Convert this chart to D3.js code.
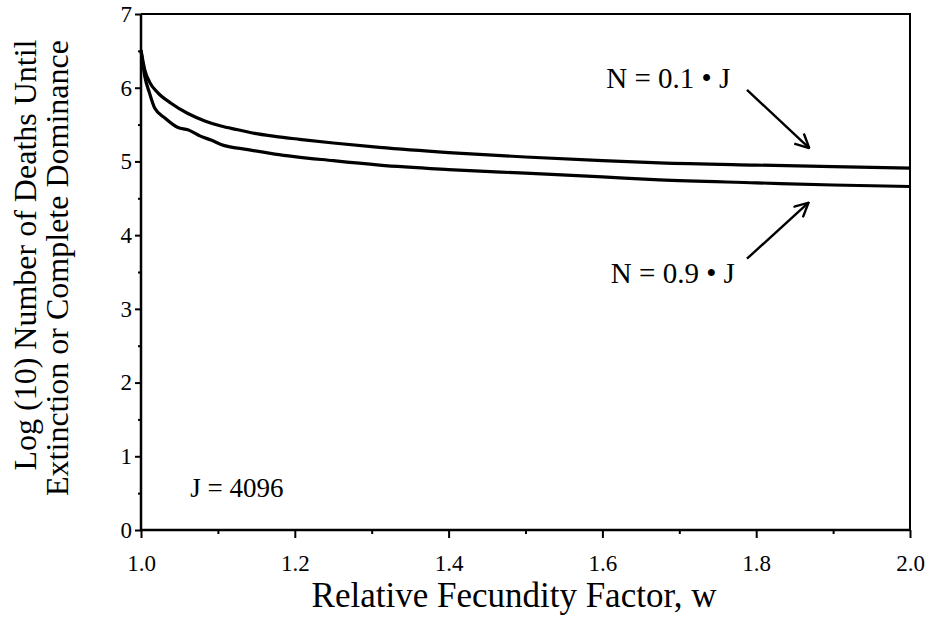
<!DOCTYPE html>
<html>
<head>
<meta charset="utf-8">
<script src="https://d3js.org/d3.v7.min.js"></script>
<style>
  body { margin: 0; background: #fff; }
  svg { display: block; }
</style>
</head>
<body>
<div id="chart"></div>
<script>
// Data: w vs log10(number of deaths)
var wLow = [1.0, 1.005, 1.011, 1.022, 1.039, 1.061, 1.083, 1.104, 1.126, 1.148, 1.174, 1.206, 1.25, 1.31, 1.4, 1.5, 1.6, 1.674, 1.8, 1.9, 2.0]
var deathsLowN = [6.51, 6.24, 6.08, 5.93, 5.79, 5.65, 5.55, 5.48, 5.43, 5.38, 5.34, 5.30, 5.25, 5.19, 5.12, 5.06, 5.01, 4.98, 4.95, 4.93, 4.91]

var wHigh = [1.0, 1.005, 1.011, 1.018, 1.031, 1.048, 1.061, 1.078, 1.091, 1.104, 1.139, 1.174, 1.25, 1.31, 1.4, 1.5, 1.6, 1.674, 1.8, 1.9, 2.0]
var deathsHighN = [6.51, 6.15, 5.93, 5.72, 5.59, 5.46, 5.43, 5.34, 5.29, 5.23, 5.16, 5.10, 5.01, 4.95, 4.89, 4.84, 4.79, 4.75, 4.71, 4.68, 4.66]

var xTicks = [1.0, 1.2, 1.4, 1.6, 1.8, 2.0]
var xMinorTicks = [1.1, 1.3, 1.5, 1.7, 1.9]
var yTicks = [0, 1, 2, 3, 4, 5, 6, 7]
var yMinorTicks = [0.5, 1.5, 2.5, 3.5, 4.5, 5.5, 6.5]

// annotations, in data units
var notes = [
  { text: 'N = 0.1 \u2022 J', w: 1.605, v: 6.0, from: [1.788, 5.97], to: [1.869, 5.18] },
  { text: 'N = 0.9 \u2022 J', w: 1.611, v: 3.35, from: [1.788, 3.68], to: [1.868, 4.44] }
]

var width = 926
var height = 626
var serif = '"Liberation Serif", "Times New Roman", serif'

var svg = d3.select('#chart').append('svg')
  .attr('width', width)
  .attr('height', height)

var xScale = d3.scaleLinear().domain([1, 2]).range([141, 910])
var yScale = d3.scaleLinear().domain([0, 7]).range([530, 14])

// minor ticks first so the main axes sit on top
svg.append('g')
  .attr('transform', 'translate(0,' + yScale(0) + ')')
  .call(d3.axisBottom(xScale).tickValues(xMinorTicks).tickSize(4).tickFormat(''))
svg.append('g')
  .attr('transform', 'translate(' + xScale(1) + ',0)')
  .call(d3.axisLeft(yScale).tickValues(yMinorTicks).tickSize(3).tickFormat(''))

var xAxis = svg.append('g')
  .attr('transform', 'translate(0,' + yScale(0) + ')')
  .call(d3.axisBottom(xScale).tickValues(xTicks).tickSize(8).tickPadding(13).tickFormat(d3.format('.1f')))

var yAxis = svg.append('g')
  .attr('transform', 'translate(' + xScale(1) + ',0)')
  .call(d3.axisLeft(yScale).tickValues(yTicks).tickSize(6).tickPadding(3).tickFormat(d3.format('d')))

svg.selectAll('.domain').remove()
svg.selectAll('.tick line').attr('stroke', '#000').attr('stroke-width', 2)
svg.selectAll('.tick text')
  .attr('fill', '#000')
  .style('font-family', serif)
  .style('font-size', '23px')
xAxis.selectAll('.tick text').attr('dy', '0.85em')

// frame
svg.append('path')
  .attr('d', 'M' + xScale(1) + ',' + yScale(7) + 'H' + xScale(2) + 'V' + yScale(0))
  .attr('fill', 'none').attr('stroke', '#000').attr('stroke-width', 2)
svg.append('path')
  .attr('d', 'M' + xScale(1) + ',' + yScale(7) + 'V' + yScale(0) + 'H' + xScale(2))
  .attr('fill', 'none').attr('stroke', '#000').attr('stroke-width', 2.5)

var line = d3.line()
  .x(function(d) { return xScale(d[0]) })
  .y(function(d) { return yScale(d[1]) })
  .curve(d3.curveMonotoneX)

svg.append('path')
  .datum(d3.zip(wLow, deathsLowN))
  .attr('d', line)
  .attr('fill', 'none').attr('stroke', '#000').attr('stroke-width', 3.2)

svg.append('path')
  .datum(d3.zip(wHigh, deathsHighN))
  .attr('d', line)
  .attr('fill', 'none').attr('stroke', '#000').attr('stroke-width', 3.2)

// arrows with open heads
svg.append('defs').append('marker')
  .attr('id', 'head')
  .attr('viewBox', '0 0 16 16')
  .attr('refX', 15).attr('refY', 8)
  .attr('markerWidth', 16).attr('markerHeight', 16)
  .attr('markerUnits', 'userSpaceOnUse')
  .attr('orient', 'auto')
  .append('path')
  .attr('d', 'M1,1L15,8L1,15')
  .attr('fill', 'none').attr('stroke', '#000').attr('stroke-width', 2.4)

function label(x, y, size, txt) {
  return svg.append('text')
    .attr('x', x).attr('y', y)
    .attr('fill', '#000')
    .style('font-family', serif)
    .style('font-size', size + 'px')
    .text(txt)
}

notes.forEach(function(n) {
  label(xScale(n.w), yScale(n.v), 29, n.text)
  svg.append('line')
    .attr('x1', xScale(n.from[0])).attr('y1', yScale(n.from[1]))
    .attr('x2', xScale(n.to[0])).attr('y2', yScale(n.to[1]))
    .attr('stroke', '#000').attr('stroke-width', 2.4)
    .attr('marker-end', 'url(#head)')
})

label(xScale(1.064), yScale(0.45), 27, 'J = 4096')

// axis titles
label(514, 607, 35, 'Relative Fecundity Factor, w')
  .attr('text-anchor', 'middle')

label(0, 0, 32, 'Log (10) Number of Deaths Until')
  .attr('transform', 'translate(36,255) rotate(-90)')
  .attr('text-anchor', 'middle')

label(0, 0, 32, 'Extinction or Complete Dominance')
  .attr('transform', 'translate(68,268) rotate(-90)')
  .attr('text-anchor', 'middle')
</script>
</body>
</html>
